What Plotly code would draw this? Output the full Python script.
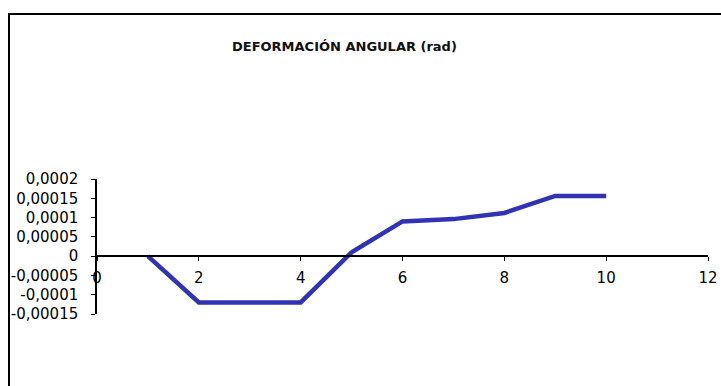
import plotly.graph_objects as go

# Angular deformation per station
stations = [1, 2, 3, 4, 5, 6, 7, 8, 9, 10]
deformation = [0.0, -0.00012, -0.00012, -0.00012, 0.00001, 0.00009, 0.000096,
               0.000112, 0.000156, 0.000156]

y_ticks = [0.0002, 0.00015, 0.0001, 0.00005, 0, -0.00005, -0.0001, -0.00015]
y_tick_text = ["0,0002", "0,00015", "0,0001", "0,00005", "0", "-0,00005",
               "-0,0001", "-0,00015"]
x_ticks = [0, 2, 4, 6, 8, 10, 12]
x_tick_text = ["0", "2", "4", "6", "8", "10", "12"]

title_text = "DEFORMACIÓN ANGULAR (rad)"

W, H = 721, 386
L, R, T, B = 97, 13, 179, 72
plot_w = W - L - R
plot_h = H - T - B

y_min, y_max = -0.00015, 0.0002
zero_frac = (0 - y_min) / (y_max - y_min)

fig = go.Figure()
fig.add_trace(go.Scatter(
    x=stations, y=deformation, mode="lines",
    line=dict(color="#3232B4", width=4.5),
    hoverinfo="skip", showlegend=False,
))

font = dict(family="DejaVu Sans, Arial, sans-serif", size=15, color="#000000")

fig.update_layout(
    width=W, height=H,
    margin=dict(l=L, r=R, t=T, b=B, pad=0, autoexpand=False),
    paper_bgcolor="white", plot_bgcolor="white",
    font=font,
    xaxis=dict(
        range=[0, 12], tickvals=x_ticks, ticktext=x_tick_text,
        showgrid=False, zeroline=False, showline=True,
        linecolor="#000000", linewidth=1.5,
        ticks="outside", ticklen=4, tickwidth=1, tickcolor="#000000",
        anchor="free", position=zero_frac,
        ticklabelstandoff=4, automargin=False,
        tickfont=font,
    ),
    yaxis=dict(
        range=[y_min, y_max], tickvals=y_ticks, ticktext=y_tick_text,
        showgrid=False, zeroline=False, showline=True,
        linecolor="#000000", linewidth=1.5,
        ticks="outside", ticklen=4, tickwidth=1, tickcolor="#000000",
        ticklabelstandoff=10, automargin=False,
        tickfont=font,
    ),
)

# Chart frame (left and top edges visible)
fig.add_shape(
    type="rect", xref="paper", yref="paper",
    x0=(9 - L) / plot_w, x1=1 + (W + 20 - (W - R)) / plot_w,
    y0=-(B + 20) / plot_h, y1=1 + (T - 14) / plot_h,
    line=dict(color="#000000", width=2), layer="above",
)

fig.add_annotation(
    text=f"<b>{title_text}</b>", xref="paper", yref="paper",
    x=(344 - L) / plot_w, y=1 + (T - 46) / plot_h,
    xanchor="center", yanchor="middle", showarrow=False,
    font=dict(family="DejaVu Sans, Arial, sans-serif", size=13, color="#111111"),
)

fig.write_html("out.html")
